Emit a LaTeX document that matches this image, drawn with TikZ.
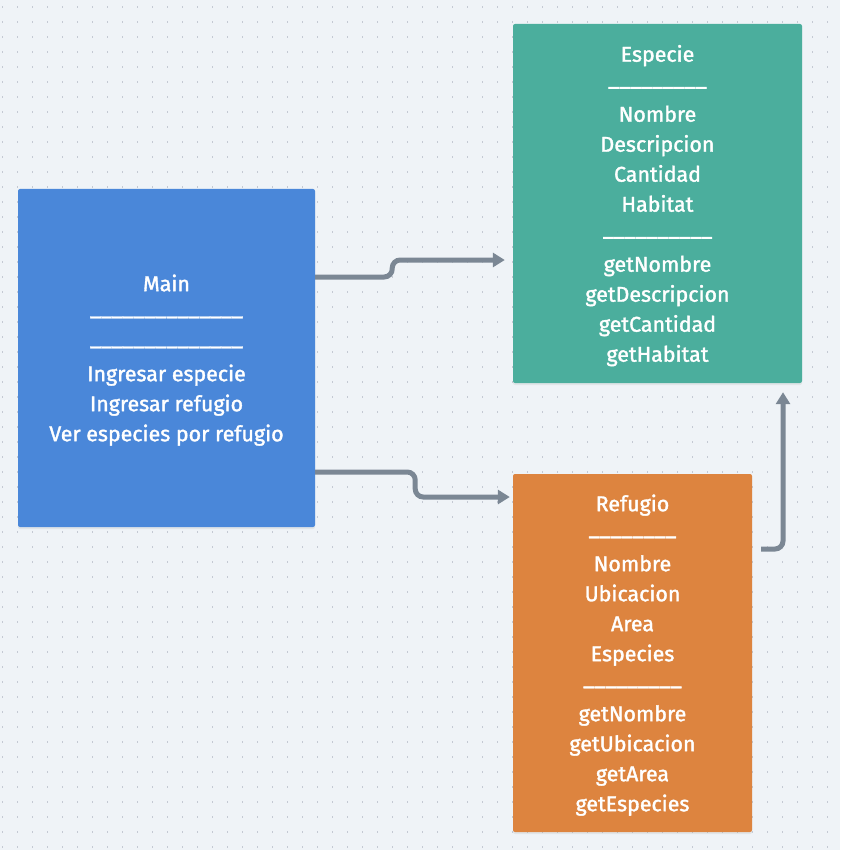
\documentclass[tikz,border=0pt]{standalone}
\usepackage{fontspec}
\setmainfont{Fira Sans}
\newfontfamily\boxfont{Fira Sans}[FakeBold=1.6]
\usetikzlibrary{arrows.meta,positioning,shadows}
\definecolor{bgc}{HTML}{EFF3F7}
\definecolor{dotc}{HTML}{C4C9D3}
\definecolor{mainc}{HTML}{4A87D9}
\definecolor{espc}{HTML}{4BAE9D}
\definecolor{refc}{HTML}{DD843F}
\definecolor{linkc}{HTML}{7B8794}
\newcommand\toprule{\rule{0pt}{21pt}}
\newcommand\sepline[1]{\raisebox{6pt}{#1}}

\begin{document}
\begin{tikzpicture}[x=1pt,y=-1pt,
  box/.style={fill=#1,rounded corners=2pt,text=white,align=center,inner sep=0pt,
    drop shadow={opacity=0.12,shadow xshift=0pt,shadow yshift=-2pt},
    font=\boxfont\fontsize{21.4}{30}\selectfont},
  link/.style={draw=linkc,line width=5pt,rounded corners=8pt,
    -{Triangle[length=12pt,width=14pt]}}]
% background with dot grid
\fill[bgc](0,0)rectangle(840,850);
\foreach \i in {0,...,55}
  \foreach \j in {0,...,56}
    \fill[dotc](2+15*\i,6+15*\j)rectangle ++(1.2,2.4);
% classes
\node[box=mainc,minimum width=297pt,minimum height=338pt](main)at(166.5,358)
  {\toprule Main\\\sepline{\_\_\_\_\_\_\_\_\_\_\_\_\_\_}\\\sepline{\_\_\_\_\_\_\_\_\_\_\_\_\_\_}\\Ingresar especie\\Ingresar refugio\\Ver especies por refugio};
\node[box=espc,minimum width=289pt,minimum height=359pt](especie)at(657.5,203.5)
  {\toprule Especie\\\sepline{\_\_\_\_\_\_\_\_\_}\\Nombre\\Descripcion\\Cantidad\\Habitat\\\sepline{\_\_\_\_\_\_\_\_\_\_}\\getNombre\\getDescripcion\\getCantidad\\getHabitat};
\node[box=refc,minimum width=239pt,minimum height=358pt](refugio)at(632.5,653)
  {\toprule Refugio\\\sepline{\_\_\_\_\_\_\_\_}\\Nombre\\Ubicacion\\Area\\Especies\\\sepline{\_\_\_\_\_\_\_\_\_}\\getNombre\\getUbicacion\\getArea\\getEspecies};
% links
\draw[link,shorten >=8pt]([yshift=81pt]main.east)-- ++(77,0)-- ++(0,-17)--([yshift=-56.5pt]especie.west);
\draw[link,shorten >=3pt]([yshift=-114pt]main.east)-- ++(100,0)-- ++(0,25)--([yshift=156pt]refugio.west);
\draw[link,shorten <=9pt,shorten >=9pt]([yshift=104pt]refugio.east)-|([xshift=125.5pt]especie.south);
\end{tikzpicture}
\end{document}
